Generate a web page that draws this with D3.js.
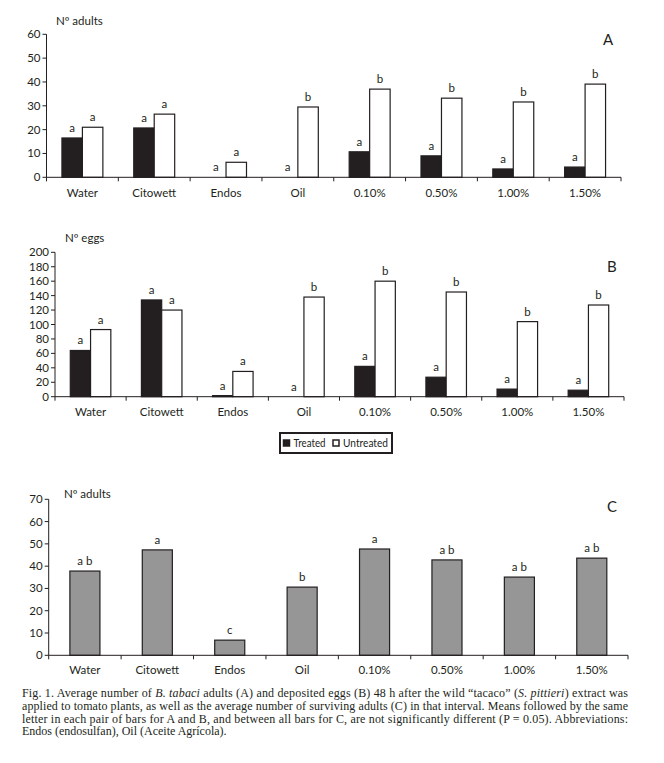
<!DOCTYPE html>
<html>
<head>
<meta charset="utf-8">
<script src="https://cdn.jsdelivr.net/npm/d3@7"></script>
<style>
  body { margin: 0; background: #fff; }
  svg { display: block; }
  text { font-family: Lato, "Open Sans", sans-serif; fill: #231f20; }
  .caption { font-family: "Liberation Serif", "DejaVu Serif", serif; font-size: 12px; }
</style>
</head>
<body>
<svg id="chart" width="664" height="763"></svg>
<script>
const categories = ["Water", "Citowett", "Endos", "Oil", "0.10%", "0.50%", "1.00%", "1.50%"];
const series = ["Treated", "Untreated"];

// panel A: adults
const adultsTreated = [16.5, 20.7, 0, 0, 10.7, 9, 3.5, 4.3];
const adultsUntreated = [21, 26.5, 6.3, 29.5, 37, 33.2, 31.6, 39.1];
const adultsTreatedLetters = ["a", "a", "a", "a", "a", "a", "a", "a"];
const adultsUntreatedLetters = ["a", "a", "a", "b", "b", "b", "b", "b"];
const adultsTicks = [0, 10, 20, 30, 40, 50, 60];

// panel B: eggs
const eggsTreated = [64, 134, 1.5, 0, 42, 27, 10.5, 9];
const eggsUntreated = [93, 120, 35, 138, 160, 145, 104, 127];
const eggsTreatedLetters = ["a", "a", "a", "a", "a", "a", "a", "a"];
const eggsUntreatedLetters = ["a", "a", "a", "b", "b", "b", "b", "b"];
const eggsTicks = [0, 20, 40, 60, 80, 100, 120, 140, 160, 180, 200];

// panel C: surviving adults
const survivors = [37.8, 47.3, 6.8, 30.6, 47.7, 42.8, 35.1, 43.6];
const survivorLetters = ["a b", "a", "c", "b", "a", "a b", "a b", "a b"];
const survivorTicks = [0, 10, 20, 30, 40, 50, 60, 70];

const captionLines = [
  [["Fig. 1. Average number of ", 0], ["B. tabaci", 1], [" adults (A) and deposited eggs (B) 48 h after the wild \u201ctacaco\u201d (", 0], ["S. pittieri", 1], [") extract was", 0]],
  [["applied to tomato plants, as well as the average number of surviving adults (C) in that interval. Means followed by the same", 0]],
  [["letter in each pair of bars for A and B, and between all bars for C, are not significantly different (P = 0.05). Abbreviations:", 0]],
  [["Endos (endosulfan), Oil (Aceite Agr\u00edcola).", 0]]
];

const svg = d3.select("#chart");
const dark = "#231f20";

function panel(cfg) {
  const g = svg.append("g");
  const x = d3.scaleBand().domain(categories).range([cfg.x0, cfg.x1])
    .paddingInner(cfg.pad).paddingOuter(cfg.pad / 2);
  const y = d3.scaleLinear().domain([0, cfg.max]).range([cfg.y0, cfg.y1]);

  // y axis
  g.append("line").attr("x1", cfg.x0).attr("x2", cfg.x0).attr("y1", y(0)).attr("y2", y(cfg.max))
    .attr("stroke", dark);
  cfg.ticks.forEach(t => {
    g.append("line").attr("x1", cfg.x0 - 4).attr("x2", cfg.x0).attr("y1", y(t)).attr("y2", y(t))
      .attr("stroke", dark);
    g.append("text").attr("x", cfg.x0 - 6).attr("y", y(t) + 4).attr("text-anchor", "end")
      .attr("font-size", 11.5).text(t);
  });

  // bars
  if (cfg.series) {
    const xi = d3.scaleBand().domain(series).range([0, x.bandwidth()]);
    cfg.series.forEach((vals, si) => {
      g.append("g").selectAll("rect").data(vals).join("rect")
        .attr("x", (d, i) => x(categories[i]) + xi(series[si]))
        .attr("y", d => y(d))
        .attr("width", xi.bandwidth())
        .attr("height", d => y(0) - y(d))
        .attr("fill", si === 0 ? dark : "#fff")
        .attr("stroke", d => d > 0 ? dark : "none")
        .attr("stroke-width", 1.2);
      g.append("g").selectAll("text").data(vals).join("text")
        .attr("x", (d, i) => x(categories[i]) + xi(series[si]) + xi.bandwidth() / 2)
        .attr("y", d => y(d) - 6)
        .attr("text-anchor", "middle").attr("font-size", 11.5)
        .text((d, i) => cfg.letters[si][i]);
    });
  } else {
    g.append("g").selectAll("rect").data(cfg.values).join("rect")
      .attr("x", (d, i) => x(categories[i]))
      .attr("y", d => y(d))
      .attr("width", x.bandwidth())
      .attr("height", d => y(0) - y(d))
      .attr("fill", "#969696")
      .attr("stroke", dark).attr("stroke-width", 1.2);
    g.append("g").selectAll("text").data(cfg.values).join("text")
      .attr("x", (d, i) => x(categories[i]) + x.bandwidth() / 2)
      .attr("y", d => y(d) - 6)
      .attr("text-anchor", "middle").attr("font-size", 11.5)
      .text((d, i) => cfg.letters[i]);
  }

  // x axis on top of bars
  g.append("line").attr("x1", cfg.x0).attr("x2", cfg.x1).attr("y1", y(0)).attr("y2", y(0))
    .attr("stroke", dark);
  d3.range(categories.length + 1).forEach(i => {
    const xx = cfg.x0 + i * x.step();
    g.append("line").attr("x1", xx).attr("x2", xx).attr("y1", y(0)).attr("y2", y(0) + 4)
      .attr("stroke", dark);
  });
  categories.forEach(c => {
    g.append("text").attr("x", x(c) + x.bandwidth() / 2).attr("y", cfg.labelY)
      .attr("text-anchor", "middle").attr("font-size", 11.5).text(c);
  });

  g.append("text").attr("x", cfg.titleX).attr("y", cfg.titleY).attr("font-size", 11.5).text(cfg.title);
  g.append("text").attr("x", cfg.tagX).attr("y", cfg.tagY).attr("font-size", 15).text(cfg.tag);
}

panel({ x0: 46.5, x1: 621, y0: 177.3, y1: 34.3, max: 60, ticks: adultsTicks, pad: 0.43,
  series: [adultsTreated, adultsUntreated], letters: [adultsTreatedLetters, adultsUntreatedLetters],
  labelY: 197, title: "N\u00ba adults", titleX: 56, titleY: 25, tag: "A", tagX: 603, tagY: 45 });

panel({ x0: 55, x1: 624, y0: 396.7, y1: 252.3, max: 200, ticks: eggsTicks, pad: 0.43,
  series: [eggsTreated, eggsUntreated], letters: [eggsTreatedLetters, eggsUntreatedLetters],
  labelY: 416, title: "N\u00ba eggs", titleX: 65, titleY: 242, tag: "B", tagX: 607, tagY: 272 });

panel({ x0: 48.7, x1: 628, y0: 655.3, y1: 499.3, max: 70, ticks: survivorTicks, pad: 0.585,
  values: survivors, letters: survivorLetters,
  labelY: 674, title: "N\u00ba adults", titleX: 64, titleY: 498, tag: "C", tagX: 607, tagY: 512 });

// legend
const lg = svg.append("g").attr("transform", "translate(280,433)");
lg.append("rect").attr("width", 112).attr("height", 20).attr("fill", "#fff")
  .attr("stroke", dark).attr("stroke-width", 2);
const legendPos = [{ box: 3.5, text: 13.5, len: 32 }, { box: 53, text: 63, len: 45 }];
series.forEach((s, i) => {
  const p = legendPos[i];
  lg.append("rect").attr("x", p.box).attr("y", 7).attr("width", 6).attr("height", 6)
    .attr("fill", i === 0 ? dark : "#fff").attr("stroke", dark).attr("stroke-width", 1.5);
  lg.append("text").attr("x", p.text).attr("y", 14).attr("font-size", 10.5)
    .attr("textLength", p.len).attr("lengthAdjust", "spacingAndGlyphs").text(s);
});

// caption
const capY = [697, 710, 722.5, 735];
captionLines.forEach((parts, li) => {
  const t = svg.append("text").attr("class", "caption").attr("x", 22).attr("y", capY[li]);
  if (li < 3) t.attr("textLength", 606).attr("lengthAdjust", "spacing");
  parts.forEach(p => {
    t.append("tspan").attr("font-style", p[1] ? "italic" : null).text(p[0]);
  });
});
</script>
</body>
</html>
